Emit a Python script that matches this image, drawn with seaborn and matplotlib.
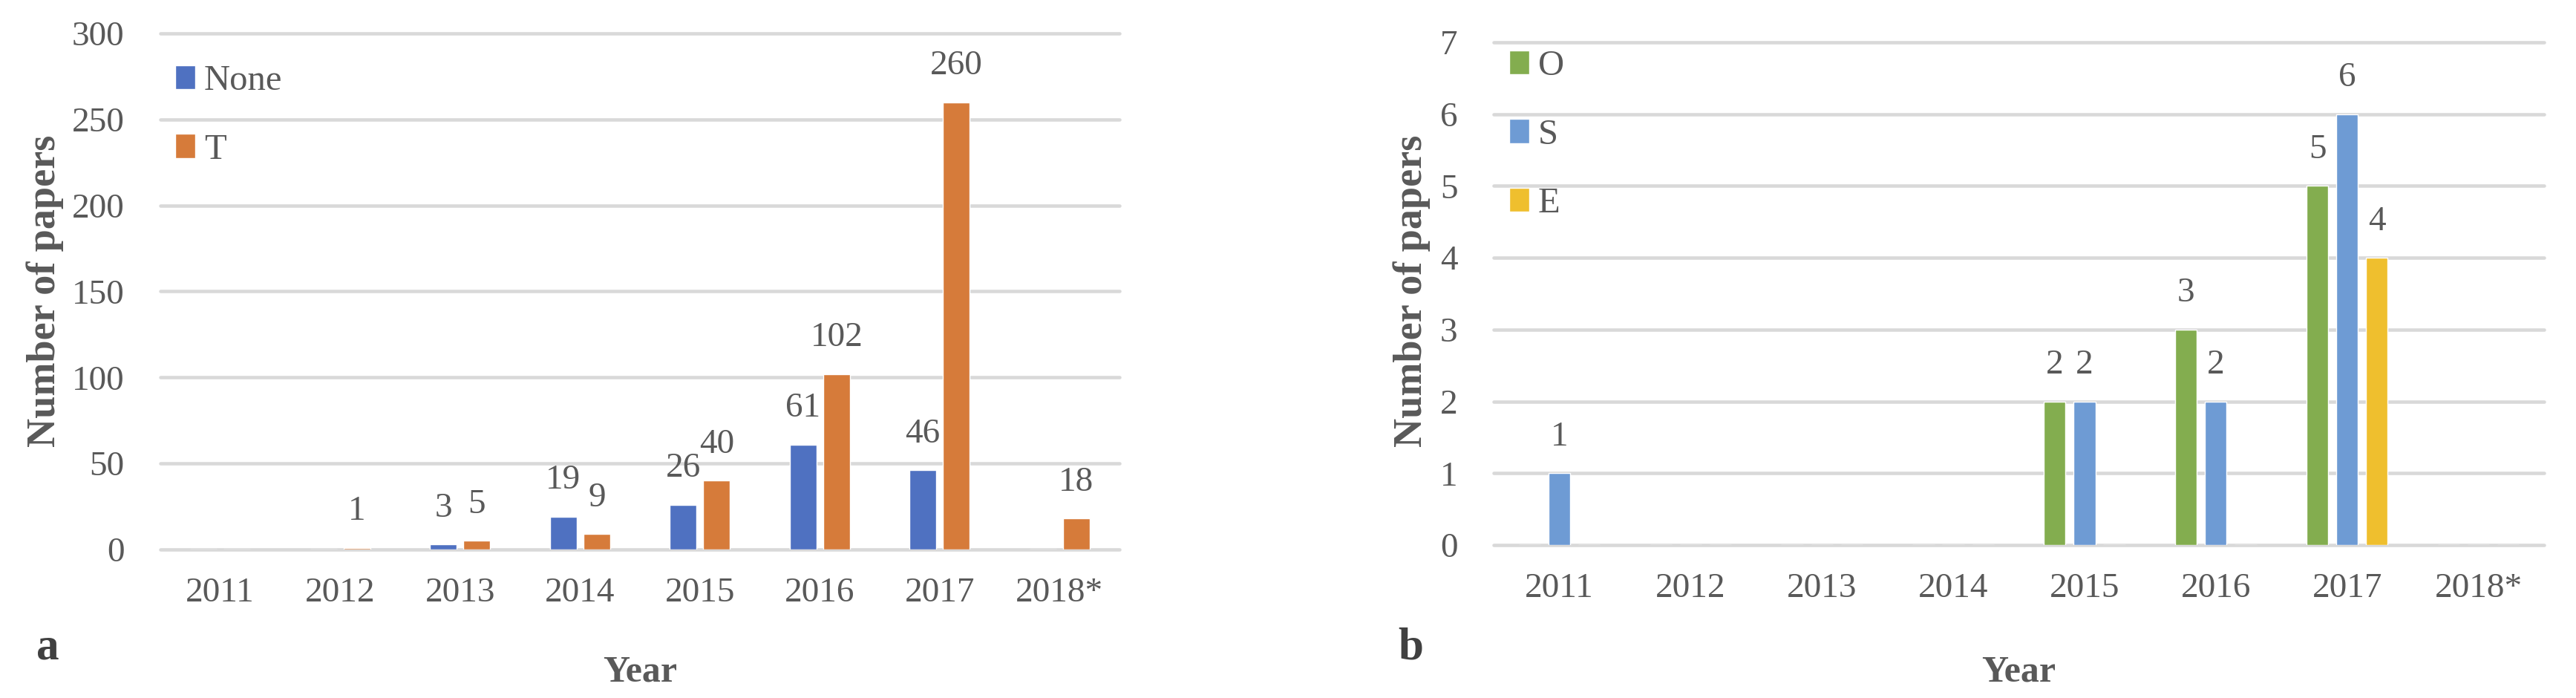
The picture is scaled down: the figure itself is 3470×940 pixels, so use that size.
import pandas as pd
import matplotlib
matplotlib.use("Agg")
import matplotlib.pyplot as plt
import seaborn as sns

sns.set_style("white")
plt.rcParams["font.family"] = ["Liberation Serif", "DejaVu Serif"]

years = ["2011", "2012", "2013", "2014", "2015", "2016", "2017", "2018*"]

# panel a
none_counts = [0, 0, 3, 19, 26, 61, 46, 0]
t_counts = [0, 1, 5, 9, 40, 102, 260, 18]

# panel b
o_counts = [0, 0, 0, 0, 2, 3, 5, 0]
s_counts = [1, 0, 0, 0, 2, 2, 6, 0]
e_counts = [0, 0, 0, 0, 0, 0, 4, 0]

df_a = pd.DataFrame({"Year": years, "None": none_counts, "T": t_counts})
df_a = df_a.melt(id_vars="Year", var_name="Type", value_name="Papers")

df_b = pd.DataFrame({"Year": years, "O": o_counts, "S": s_counts, "E": e_counts})
df_b = df_b.melt(id_vars="Year", var_name="Type", value_name="Papers")

pal_a = {"None": "#4F71C1", "T": "#D67B3A"}
pal_b = {"O": "#83AD4F", "S": "#6E9BD4", "E": "#EFBF2E"}

W, H = 3470, 940
fig = plt.figure(figsize=(W / 100, H / 100), dpi=100)

TXT = "#595959"


def add_axes_px(x0, y0, x1, y1):
    return fig.add_axes([x0 / W, 1 - y1 / H, (x1 - x0) / W, (y1 - y0) / H])


def draw_panel(ax, df, palette, ymax, step, width, gap, leg_xy):
    sns.barplot(
        data=df,
        x="Year",
        y="Papers",
        hue="Type",
        palette=palette,
        saturation=1,
        width=width,
        gap=gap,
        errorbar=None,
        ax=ax,
    )

    ax.set_xlim(-0.5, len(years) - 0.5)
    ax.set_ylim(0, ymax)
    ax.set_yticks(range(0, ymax + 1, step))
    ax.set_axisbelow(True)
    ax.yaxis.grid(True, color="#D9D9D9", linewidth=3.3)
    for gl in ax.yaxis.get_gridlines():
        gl.set_clip_on(False)
    sns.despine(ax=ax, left=True, bottom=True)

    ax.tick_params(axis="both", length=0, labelsize=34, labelcolor=TXT)
    ax.tick_params(axis="x", pad=27)
    ax.tick_params(axis="y", pad=35)
    ax.set_xlabel("")
    ax.set_ylabel("")

    # value labels, zeros are left out
    for cont in ax.containers:
        for bar in cont:
            h = bar.get_height()
            if h > 0:
                ax.annotate(
                    f"{h:.0f}",
                    (bar.get_x() + bar.get_width() / 2, h),
                    xytext=(0, 27),
                    textcoords="offset points",
                    ha="center",
                    va="baseline",
                    fontsize=34,
                    color=TXT,
                )

    handles, labels = ax.get_legend_handles_labels()
    ax.legend(
        handles,
        labels,
        loc="upper left",
        bbox_to_anchor=(leg_xy[0] / W, 1 - leg_xy[1] / H),
        bbox_transform=fig.transFigure,
        frameon=False,
        fontsize=35,
        labelcolor=TXT,
        handlelength=0.55,
        handleheight=0.65,
        handletextpad=0.25,
        labelspacing=1.0,
        borderpad=0,
        borderaxespad=0,
    )


ax_a = add_axes_px(216, 45, 1508, 740)
draw_panel(ax_a, df_a, pal_a, 300, 50, 0.56, 0.21, (236, 87))

ax_b = add_axes_px(2012, 57, 3427, 734)
draw_panel(ax_b, df_b, pal_b, 7, 1, 0.68, 0.27, (2033, 67))

for x_lab, x_year, x_panel, tag in [(61, 862, 64, "a"), (1902, 2719, 1900, "b")]:
    fig.text(x_lab / W, 1 - 392 / H, "Number of papers", rotation=90,
             ha="center", va="center", fontsize=39, fontweight="bold", color=TXT)
    fig.text(x_year / W, 1 - 918 / H, "Year", ha="center", va="baseline",
             fontsize=36, fontweight="bold", color=TXT)
    fig.text(x_panel / W, 1 - 888 / H, tag, ha="center", va="baseline",
             fontsize=44, fontweight="bold", color="#404040")

fig.savefig("out.png", dpi=100)
